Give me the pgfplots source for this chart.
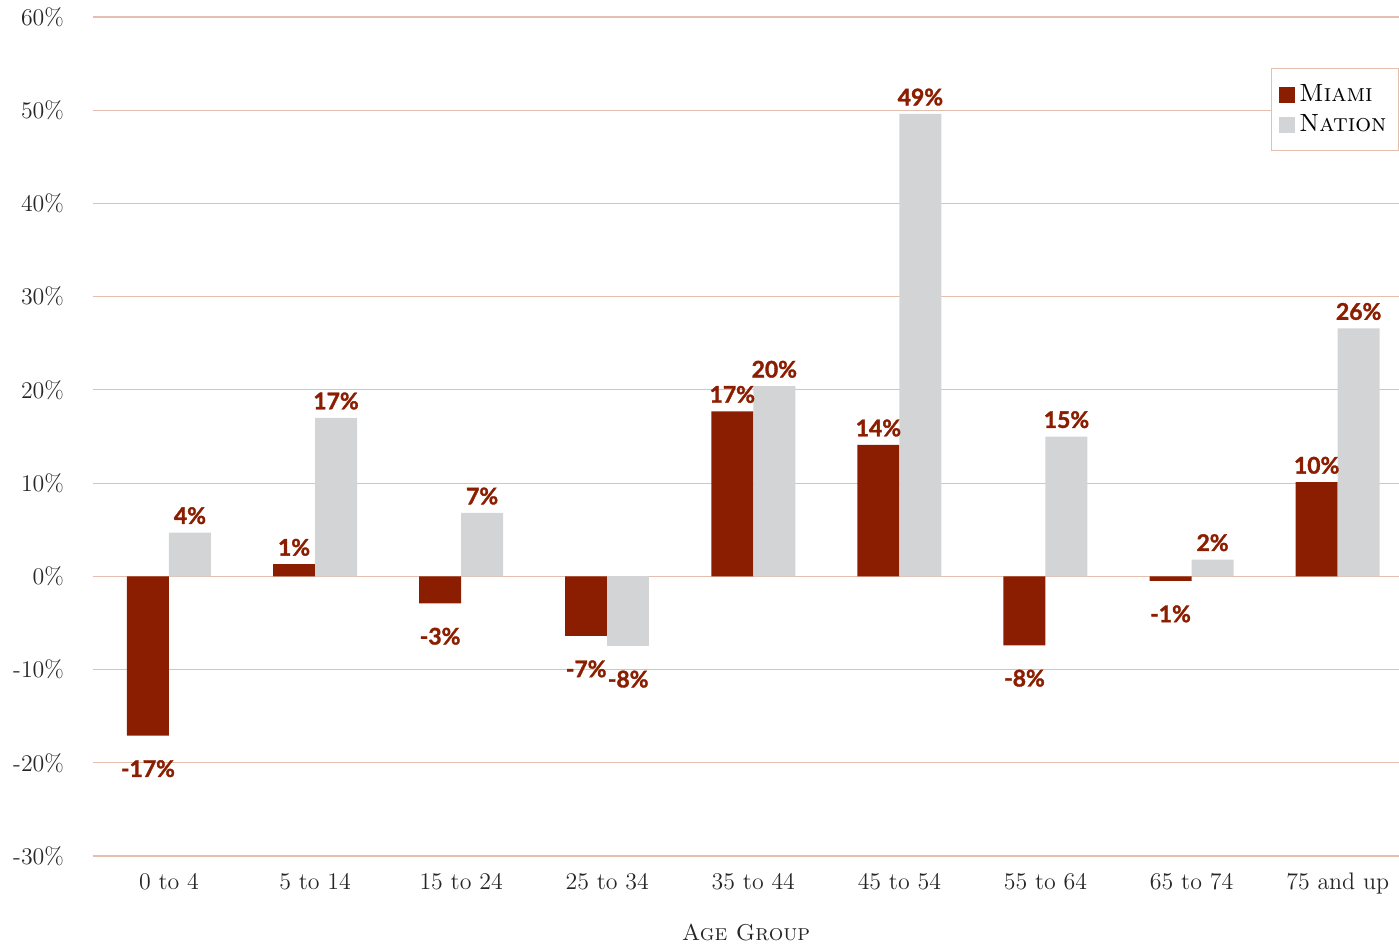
\documentclass[border=0pt]{standalone}
\usepackage{fontspec}
\usepackage{pgfplots}
\usepackage{pgfplotstable}
\pgfplotsset{compat=1.18}
\newfontfamily\labfont{Lato}[FakeBold=1.5]
\definecolor{miami}{HTML}{8B1E00}
\definecolor{nation}{HTML}{D3D4D6}
\definecolor{gridc}{HTML}{E4BFAE}
\pgfplotstableread{
x y lab
1 1.3 1\%
4 17.7 17\%
5 14.1 14\%
8 10.1 10\%
}\miamipos
\pgfplotstableread{
x y lab
0 -17.1 -17\%
2 -2.9 -3\%
3 -6.4 -7\%
6 -7.4 -8\%
7 -0.5 -1\%
}\miamineg
\pgfplotstableread{
x y lab
0 4.7 4\%
1 17.0 17\%
2 6.8 7\%
4 20.4 20\%
5 49.6 49\%
6 15.0 15\%
7 1.8 2\%
8 26.6 26\%
}\nationpos
\pgfplotstableread{
x y lab
3 -7.5 -8\%
}\nationneg
\begin{document}
\begin{tikzpicture}
\begin{axis}[
  at={(0,0)}, anchor=south west,
  scale only axis,
  width=653bp, height=419.5bp,
  ybar,
  xmin=-0.52, xmax=8.42,
  ymin=-30, ymax=60,
  ytick={-30,-20,...,60},
  xtick={0,...,8},
  xticklabels={0 to 4,5 to 14,15 to 24,25 to 34,35 to 44,45 to 54,55 to 64,65 to 74,75 and up},
  yticklabel={\pgfmathprintnumber{\tick}\%},
  /pgf/number format/assume math mode=true,
  ymajorgrids,
  major grid style={color=gridc, line width=0.6bp},
  axis line style={draw=none},
  major tick length=0pt,
  tick label style={font=\fontsize{12}{14}\selectfont, text=black!85},
  yticklabel style={xshift=-11bp},
  xticklabel style={yshift=-5bp},
  xlabel={\textsc{Age Group}},
  xlabel style={font=\fontsize{11.5}{14}\selectfont, text=black!85, yshift=-8bp},
  bar width=21bp,
  nodes near coords,
  point meta=explicit symbolic,
  nodes near coords style={font=\labfont\bfseries\fontsize{11.5}{13}\selectfont, text=miami, inner sep=4bp},
  legend style={at={(rel axis cs:1,1)}, yshift=-25.5bp, anchor=north east,
    draw=gridc, line width=0.6bp, font=\fontsize{12.5}{15}\selectfont,
    inner xsep=4bp, inner ysep=6bp, row sep=1bp, cells={anchor=west}},
  legend image code/.code={\fill[#1] (2bp,-4bp) rectangle (10bp,4bp);},
]
\addplot[fill=miami, draw=none, bar shift=-10.5bp] table[x=x, y=y, meta=lab] {\miamipos};
\addlegendentry{\textsc{Miami}}
\addplot[fill=nation, draw=none, bar shift=10.5bp] table[x=x, y=y, meta=lab] {\nationpos};
\addlegendentry{\textsc{Nation}}
\addplot[fill=miami, draw=none, bar shift=-10.5bp, forget plot,
  every node near coord/.append style={anchor=north, yshift=-8bp}] table[x=x, y=y, meta=lab] {\miamineg};
\addplot[fill=nation, draw=none, bar shift=10.5bp, forget plot,
  every node near coord/.append style={anchor=north, yshift=-8bp}] table[x=x, y=y, meta=lab] {\nationneg};
\end{axis}
\pgfresetboundingbox
\path[use as bounding box] (-46.5bp,-45bp) rectangle (653bp,428bp);
\end{tikzpicture}
\end{document}
